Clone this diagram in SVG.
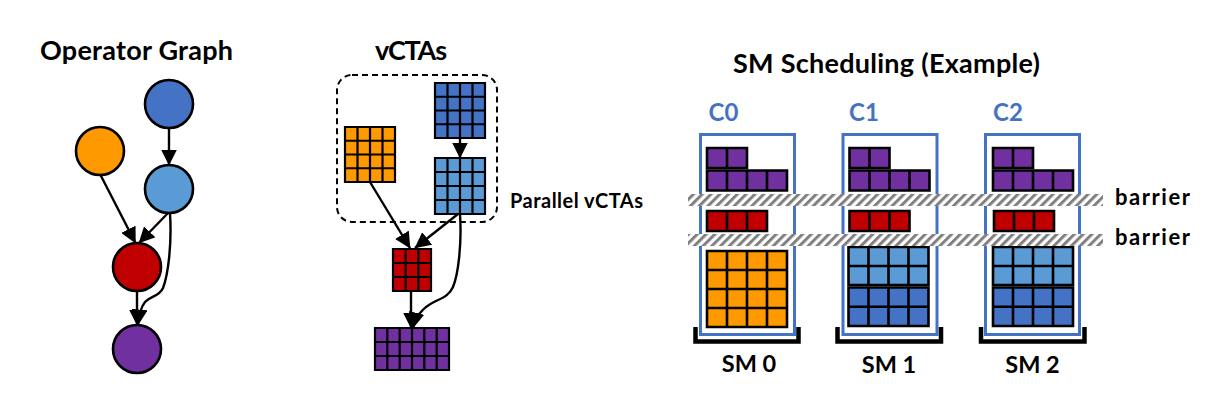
<svg xmlns="http://www.w3.org/2000/svg" width="1226" height="412" viewBox="0 0 1226 412">
<style>
text{font-family:Lato,"Liberation Sans",sans-serif;font-weight:bold;fill:#000}
.title{font-size:27px}
.clab{font-size:24px;fill:#4472C4}
.sm{font-size:23.5px}
.bar{font-size:22px}
.node{stroke:#000;stroke-width:2.6}
.g{stroke:#000;stroke-width:2.2;fill:none}
.gr{stroke:#000;stroke-width:2.6;fill:none}
.conn{stroke:#000;stroke-width:2.4;fill:none;marker-end:url(#ah)}
.core{fill:none;stroke:#4472C4;stroke-width:3}
.brk{fill:none;stroke:#000;stroke-width:4.5}
.db{fill:#4472C4}.lb{fill:#5B9BD5}.or{fill:#FF9900}.rd{fill:#C00000}.pu{fill:#7030A0}
</style>
<defs>
<marker id="ah" markerUnits="userSpaceOnUse" markerWidth="16" markerHeight="16" refX="15.5" refY="8" orient="auto"><path d="M0,0 L16,8 L0,16 z" fill="#000"/></marker>
<pattern id="hatch" patternUnits="userSpaceOnUse" width="6.2" height="10" patternTransform="rotate(45)"><rect width="6.2" height="10" fill="#fff"/><rect width="3" height="10" fill="#808080"/></pattern>
</defs>

<!-- Titles -->
<text class="title" x="136.5" y="60" text-anchor="middle" textLength="193">Operator Graph</text>
<text class="title" x="411" y="60" text-anchor="middle" textLength="72">vCTAs</text>
<text class="title" x="886.5" y="73" text-anchor="middle" textLength="307">SM Scheduling (Example)</text>

<!-- Operator graph nodes -->
<g id="op-darkblue"><circle class="node db" cx="169" cy="104" r="24"/></g>
<g id="op-orange"><circle class="node or" cx="100" cy="151" r="24"/></g>
<g id="op-lightblue"><circle class="node lb" cx="169" cy="189" r="24"/></g>
<g id="op-red"><circle class="node rd" cx="137" cy="267" r="24"/></g>
<g id="op-purple"><circle class="node pu" cx="137" cy="349" r="24"/></g>

<!-- vCTA nodes -->
<g id="vcta-group">
<rect x="337" y="75" width="160" height="147" rx="15" fill="none" stroke="#000" stroke-width="2" stroke-dasharray="6,4"/>
<text x="510" y="208" font-size="20" textLength="133">Parallel vCTAs</text>
</g>
<g id="vcta-darkblue">
<rect class="db" x="435" y="83" width="50" height="55"/>
<path class="g" d="M435,83h50v55h-50z M447.5,83v55 M460,83v55 M472.5,83v55 M435,96.75h50 M435,110.5h50 M435,124.25h50"/>
</g>
<g id="vcta-orange">
<rect class="or" x="345" y="127" width="50" height="55"/>
<path class="g" d="M345,127h50v55h-50z M357.5,127v55 M370,127v55 M382.5,127v55 M345,140.75h50 M345,154.5h50 M345,168.25h50"/>
</g>
<g id="vcta-lightblue">
<rect class="lb" x="435" y="158" width="50" height="56"/>
<path class="g" d="M435,158h50v56h-50z M447.5,158v56 M460,158v56 M472.5,158v56 M435,172h50 M435,186h50 M435,200h50"/>
</g>
<g id="vcta-red">
<rect class="rd" x="393" y="249" width="38" height="42"/>
<path class="g" d="M393,249h38v42h-38z M405.67,249v42 M418.33,249v42 M393,263h38 M393,277h38"/>
</g>
<g id="vcta-purple">
<rect class="pu" x="375" y="328" width="74" height="42"/>
<path class="g" d="M375,328h74v42h-74z M387.33,328v42 M399.67,328v42 M412,328v42 M424.33,328v42 M436.67,328v42 M375,342h74 M375,356h74"/>
</g>

<!-- Connectors -->
<g id="connectors">
<path class="conn" d="M169,128 L169,165"/>
<path class="conn" d="M100,174 L135.5,243"/>
<path class="conn" d="M168,213 L139,243"/>
<path class="conn" d="M137,291 L137,325"/>
<path class="conn" d="M170,213 C172,245 168,275 163,288 C159,297 150,296 145,302 C141,307 139,315 138,325"/>
<path class="conn" d="M460,138 L460,158"/>
<path class="conn" d="M370,182 L410,248"/>
<path class="conn" d="M458,214 L415,248"/>
<path class="conn" d="M411,291 L411,328"/>
<path class="conn" d="M460,214 C462,245 458,275 453,287 C449,296 442,298 434,302 C424,307 416,315 413,328"/>
</g>

<!-- SM 0 -->
<g id="sm0">
<text class="clab" x="708.5" y="121">C0</text>
<rect class="core" x="700.5" y="134.5" width="94" height="200"/>
<rect class="pu" x="707" y="148" width="40" height="20"/>
<path class="gr" d="M707,148h40v20h-40z M727,148v20"/>
<rect class="pu" x="707" y="170.5" width="80" height="20"/>
<path class="gr" d="M707,170.5h80v20h-80z M727,170.5v20 M747,170.5v20 M767,170.5v20"/>
<rect class="rd" x="707" y="211" width="60" height="20"/>
<path class="gr" d="M707,211h60v20h-60z M727,211v20 M747,211v20"/>
<rect class="or" x="707" y="251" width="80" height="76"/>
<path class="gr" d="M707,251h80v76h-80z M727,251v76 M747,251v76 M767,251v76 M707,270h80 M707,289h80 M707,308h80"/>
<path class="brk" d="M695.5,327 V341.5 H798.5 V327"/>
<text class="sm" x="749" y="372" text-anchor="middle">SM 0</text>
</g>

<!-- SM 1 -->
<g id="sm1">
<text class="clab" x="849" y="121">C1</text>
<rect class="core" x="843" y="134.5" width="94" height="200"/>
<rect class="pu" x="849.5" y="148" width="40" height="20"/>
<path class="gr" d="M849.5,148h40v20h-40z M869.5,148v20"/>
<rect class="pu" x="849.5" y="170.5" width="80" height="20"/>
<path class="gr" d="M849.5,170.5h80v20h-80z M869.5,170.5v20 M889.5,170.5v20 M909.5,170.5v20"/>
<rect class="rd" x="849.5" y="211" width="60" height="20"/>
<path class="gr" d="M849.5,211h60v20h-60z M869.5,211v20 M889.5,211v20"/>
<rect class="lb" x="848.5" y="247" width="80" height="38"/>
<path class="gr" d="M848.5,247h80v38h-80z M868.5,247v38 M888.5,247v38 M908.5,247v38 M848.5,266h80"/>
<rect class="db" x="848.5" y="287.5" width="80" height="38.5"/>
<path class="gr" d="M848.5,287.5h80v38.5h-80z M868.5,287.5v38.5 M888.5,287.5v38.5 M908.5,287.5v38.5 M848.5,306.75h80"/>
<path class="brk" d="M837.5,327 V341.5 H941 V327"/>
<text class="sm" x="889" y="373" text-anchor="middle">SM 1</text>
</g>

<!-- SM 2 -->
<g id="sm2">
<text class="clab" x="993" y="121">C2</text>
<rect class="core" x="985.5" y="134.5" width="94" height="200"/>
<rect class="pu" x="993" y="148" width="40" height="20"/>
<path class="gr" d="M993,148h40v20h-40z M1013,148v20"/>
<rect class="pu" x="993" y="170.5" width="80" height="20"/>
<path class="gr" d="M993,170.5h80v20h-80z M1013,170.5v20 M1033,170.5v20 M1053,170.5v20"/>
<rect class="rd" x="994" y="211" width="60" height="20"/>
<path class="gr" d="M994,211h60v20h-60z M1014,211v20 M1034,211v20"/>
<rect class="lb" x="993" y="247" width="80" height="38"/>
<path class="gr" d="M993,247h80v38h-80z M1013,247v38 M1033,247v38 M1053,247v38 M993,266h80"/>
<rect class="db" x="993" y="287.5" width="80" height="38.5"/>
<path class="gr" d="M993,287.5h80v38.5h-80z M1013,287.5v38.5 M1033,287.5v38.5 M1053,287.5v38.5 M993,306.75h80"/>
<path class="brk" d="M981,327 V341.5 H1084.5 V327"/>
<text class="sm" x="1032.5" y="373" text-anchor="middle">SM 2</text>
</g>

<!-- Barriers -->
<g id="barrier1">
<rect x="688" y="194" width="415" height="12" fill="url(#hatch)"/>
<text class="bar" x="1115" y="205" textLength="75">barrier</text>
</g>
<g id="barrier2">
<rect x="688" y="234" width="415" height="12" fill="url(#hatch)"/>
<text class="bar" x="1115" y="245" textLength="75">barrier</text>
</g>
</svg>
